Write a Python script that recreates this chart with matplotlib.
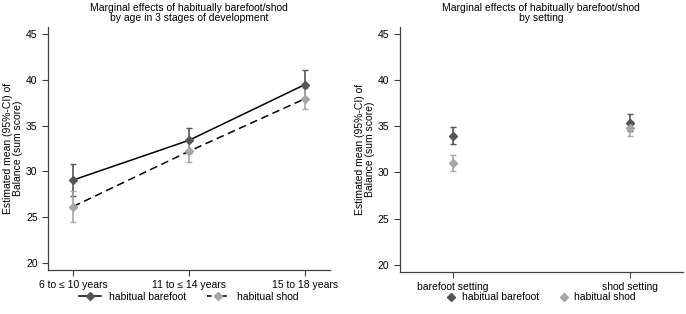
import matplotlib.pyplot as plt
from matplotlib.lines import Line2D

plt.rcParams['font.family'] = ['Liberation Sans', 'DejaVu Sans']

# Data: alder
ages = ["6 to \u2264 10 years", "11 to \u2264 14 years", "15 to 18 years"]
bf_age = [29.05, 33.4, 39.5]
bf_age_lo = [27.3, 32.0, 37.9]
bf_age_hi = [30.8, 34.8, 41.1]
sh_age = [26.15, 32.2, 37.95]
sh_age_lo = [24.5, 31.0, 36.8]
sh_age_hi = [27.8, 33.4, 39.1]

# Data: setting
settings = ["barefoot setting", "shod setting"]
bf_set = [34.0, 35.4]
bf_set_lo = [33.05, 34.5]
bf_set_hi = [34.95, 36.4]
sh_set = [31.05, 34.85]
sh_set_lo = [30.2, 34.0]
sh_set_hi = [31.9, 35.6]

dark = "#555555"
light = "#a6a6a6"
fs = 7.5

fig = plt.figure(figsize=(6.86, 3.14), dpi=100)
ax1 = fig.add_axes([0.070, 0.140, 0.411, 0.774])
ax2 = fig.add_axes([0.583, 0.134, 0.4125, 0.780])


def err(v, lo, hi):
    return [[a - b for a, b in zip(v, lo)], [b - a for a, b in zip(v, hi)]]


def style(ax):
    for s in ["top", "right"]:
        ax.spines[s].set_visible(False)
    for s in ["left", "bottom"]:
        ax.spines[s].set_color("#404040")
        ax.spines[s].set_linewidth(0.9)
    ax.tick_params(direction="out", length=4, width=0.8, color="#404040", labelsize=fs)
    ax.set_ylim(19.2, 45.8)
    ax.set_yticks([20, 25, 30, 35, 40, 45])
    ax.set_ylabel("Estimated mean (95%-CI) of\nBalance (sum score)", fontsize=fs, linespacing=1.0, labelpad=2)


# Venster panel
x = range(len(ages))
ax1.errorbar(x, bf_age, yerr=err(bf_age, bf_age_lo, bf_age_hi), fmt="none", ecolor=dark, elinewidth=1.2, capsize=2.5, capthick=1.0)
ax1.errorbar(x, sh_age, yerr=err(sh_age, sh_age_lo, sh_age_hi), fmt="none", ecolor=light, elinewidth=1.2, capsize=2.5, capthick=1.0)
ax1.plot(x, bf_age, color="black", lw=1.1, marker="D", ms=4.5, mfc=dark, mec=dark)
ax1.plot(x, sh_age, color="black", lw=1.1, ls=(0, (5, 3)), marker="D", ms=4.5, mfc=light, mec=light)
ax1.set_xlim(-0.216, 2.216)
ax1.set_xticks(list(x))
ax1.set_xticklabels(ages)
style(ax1)
ax1.set_title("Marginal effects of habitually barefoot/shod\nby age in 3 stages of development", fontsize=fs, linespacing=1.0, pad=4)
h1 = [Line2D([], [], color="black", lw=1.1, marker="D", ms=4, mfc=dark, mec=dark),
      Line2D([], [], color="black", lw=1.1, ls=(0, (3, 2)), marker="D", ms=4, mfc=light, mec=light)]
ax1.legend(h1, ["habitual barefoot", "habitual shod"], loc="center", bbox_to_anchor=(0.5, -0.111),
           ncol=2, frameon=False, fontsize=fs, handlelength=2.1, handletextpad=0.8, columnspacing=2.0)

# Hoger panel
x2 = range(len(settings))
ax2.errorbar(x2, bf_set, yerr=err(bf_set, bf_set_lo, bf_set_hi), fmt="D", color=dark, ms=4.5, elinewidth=1.2, capsize=2.5, capthick=1.0)
ax2.errorbar(x2, sh_set, yerr=err(sh_set, sh_set_lo, sh_set_hi), fmt="D", color=light, ms=4.5, elinewidth=1.2, capsize=2.5, capthick=1.0)
ax2.set_xlim(-0.3, 1.3)
ax2.set_xticks(list(x2))
ax2.set_xticklabels(settings)
style(ax2)
ax2.set_title("Marginal effects of habitually barefoot/shod\nby setting", fontsize=fs, linespacing=1.0, pad=4)
h2 = [Line2D([], [], ls="none", marker="D", ms=4, color=dark),
      Line2D([], [], ls="none", marker="D", ms=4, color=light)]
ax2.legend(h2, ["habitual barefoot", "habitual shod"], loc="center", bbox_to_anchor=(0.5, -0.104),
           ncol=2, frameon=False, fontsize=fs, handlelength=0.8, handletextpad=0.6, columnspacing=2.0)

fig.savefig("out.png", dpi=100)
